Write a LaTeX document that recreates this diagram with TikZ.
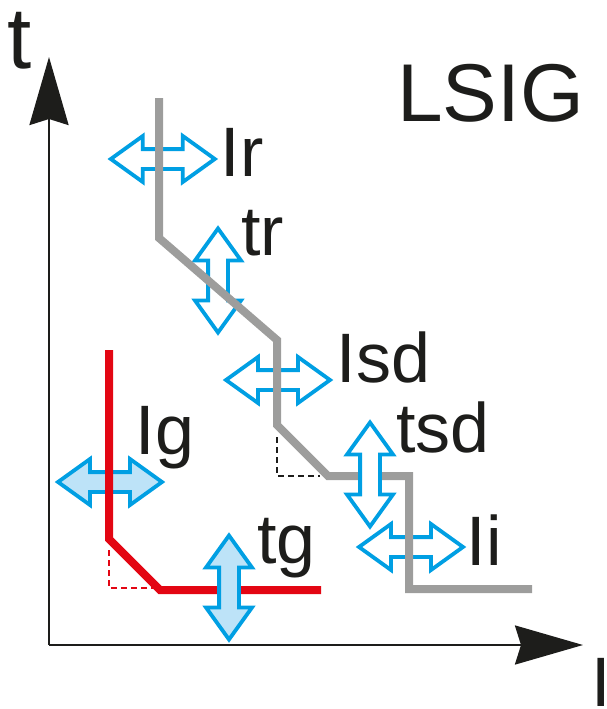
\documentclass[tikz,border=0pt]{standalone}
\usepackage{fontspec}
\setmainfont{Liberation Sans}
\usetikzlibrary{positioning,arrows.meta}

\definecolor{arrowcyan}{RGB}{0,159,227}
\definecolor{arrowfill}{RGB}{189,227,248}
\definecolor{curvegray}{RGB}{157,157,156}
\definecolor{curvered}{RGB}{227,6,19}
\definecolor{inkblack}{RGB}{29,29,27}

\tikzset{
    pics/dblarrow/.style={code={
        \path[pic actions] (-52,0) -- (-20,-23) -- (-20,-9.9) -- (20,-9.9) -- (20,-23)
            -- (52,0) -- (20,23) -- (20,9.9) -- (-20,9.9) -- (-20,23) -- cycle;
    }}
}

\begin{document}
\begin{tikzpicture}[
            x=1pt, y=-1pt,
            axisline/.style={draw=inkblack, line width=2.5pt, -{Stealth[length=68pt, width=39pt, inset=6pt]}},
            curve/.style={line width=8pt},
            helper/.style={dashed, dash pattern=on 6pt off 4pt, line width=1.3pt},
            setting/.style={draw=arrowcyan, line width=3.8pt, fill=white},
            ground/.style={setting, fill=arrowfill},
            lbl/.style={anchor=base west, inner sep=0pt, text=inkblack, font=\fontsize{70}{80}\selectfont}
        ]
            \useasboundingbox (0,0) rectangle (607,709);

            \coordinate (origin) at (49,645);
            \coordinate (ttip) at (49,57);
            \coordinate (Itip) at (583,645);

            \draw[axisline] (origin) -- (ttip);
            \draw[axisline] (origin) -- (Itip);

            % current settings crossed by the curves
            \pic[setting] (Ir) at (162.8,159) {dblarrow};
            \pic[setting, rotate=90] (tr) at (218,280.5) {dblarrow};
            \pic[setting] (Isd) at (278,380) {dblarrow};
            \pic[setting] (Ii) at (411,547) {dblarrow};
            \pic[ground] (Ig) at (110,482) {dblarrow};

            \draw[helper, inkblack] (277,437) -- (277,476) -- (320,476);
            \draw[helper, curvered] (109,550) -- (109,588) -- (157,588);

            \draw[curve, curvegray] (159,98) -- (159,238) -- (277,340) -- (277,425)
                -- (328,476) -- (409,476) -- (409,589) -- (532,589);
            \draw[curve, curvered] (109,350) -- (109,539) -- (160,590) -- (321,590);

            % time settings on top
            \pic[setting, rotate=90] (tsd) at (370,474.5) {dblarrow};
            \pic[ground, rotate=90] (tg) at (229,587.5) {dblarrow};

            \node[lbl] (Irlabel) at (220.5,176) {Ir};
            \node[lbl] (trlabel) at (241,255) {tr};
            \node[lbl] (Isdlabel) at (336.5,382) {Isd};
            \node[lbl] (tsdlabel) at (396,452) {tsd};
            \node[lbl] (Iilabel) at (466.5,565) {Ii};
            \node[lbl] (Iglabel) at (135.5,454) {Ig};
            \node[lbl] (tglabel) at (257,563) {tg};

            \node[lbl, font=\fontsize{87}{96}\selectfont] (tlabel) at (7,68) {t};
            \node[lbl] (Ilabel) at (591.5,706) {I};
            \node[lbl, font=\fontsize{82}{92}\selectfont] (title) at (397,121) {LSIG};

        \end{tikzpicture}
\end{document}
